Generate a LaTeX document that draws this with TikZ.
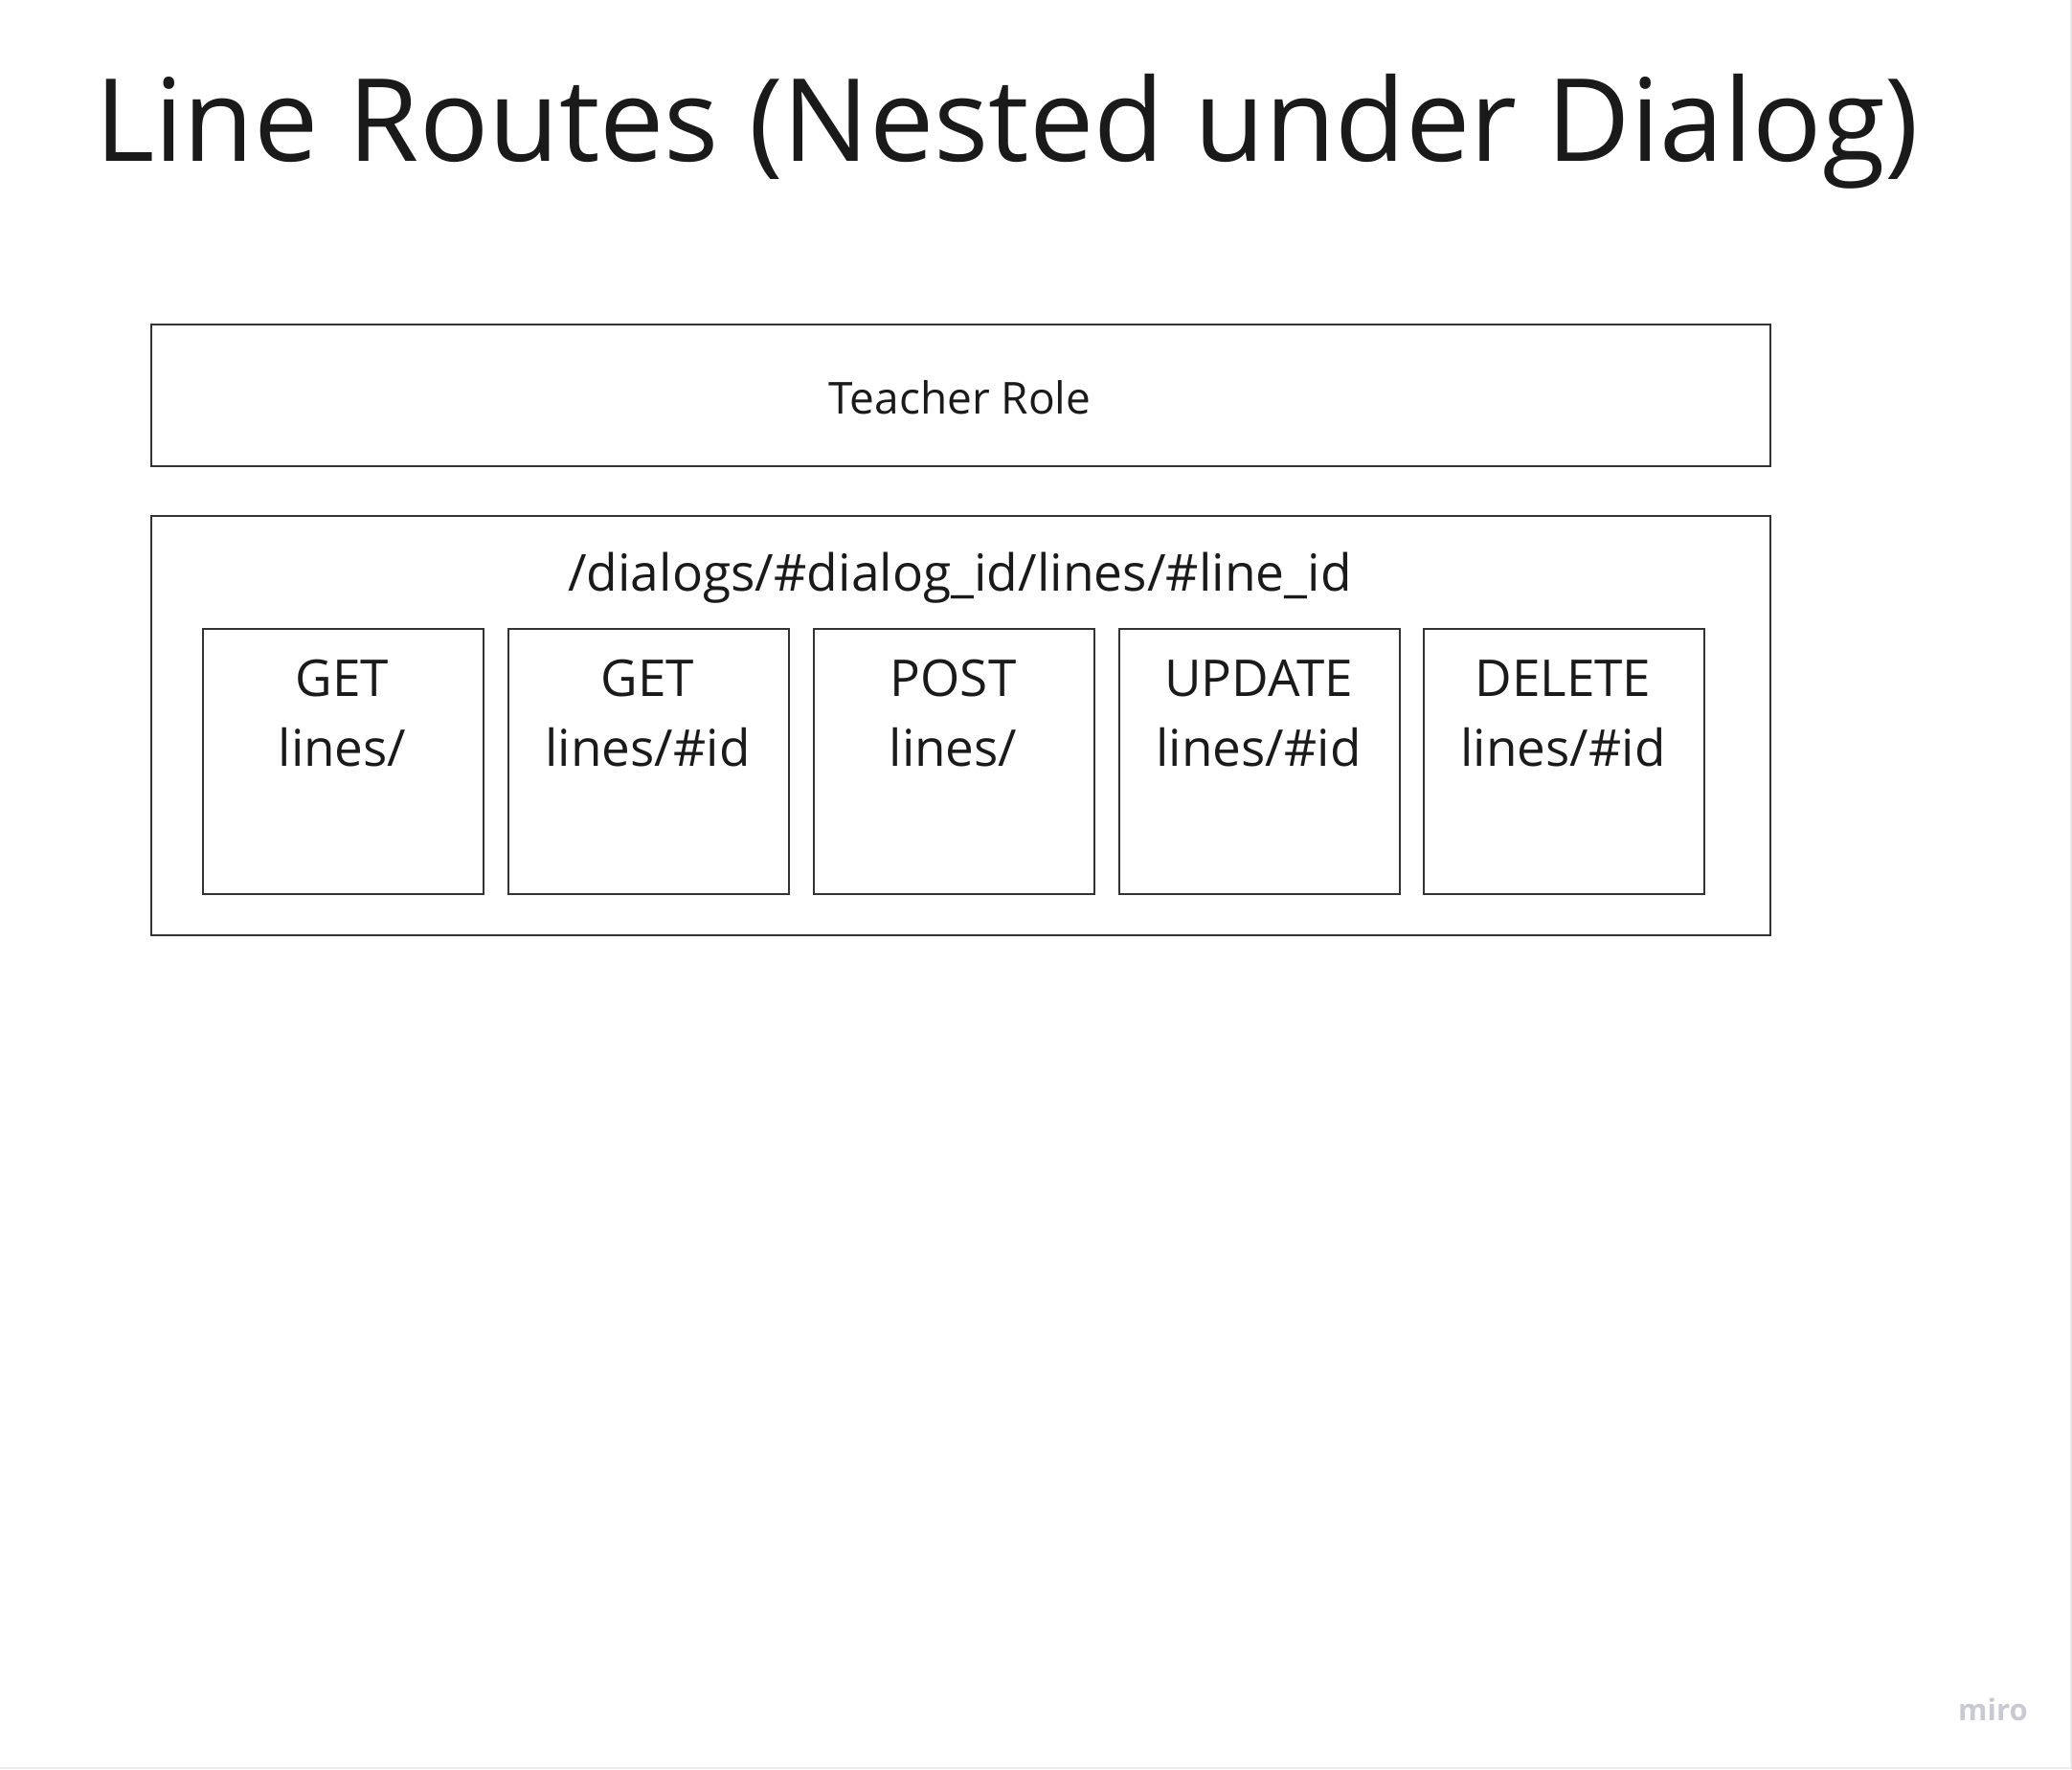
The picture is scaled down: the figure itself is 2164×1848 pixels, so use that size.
\documentclass[tikz,border=0pt]{standalone}
\usepackage{fontspec}
\setmainfont{Open Sans}
\definecolor{ink}{HTML}{1A1A1A}
\definecolor{edge}{HTML}{333333}
\definecolor{logo}{HTML}{C9C9D3}
\begin{document}
\begin{tikzpicture}[x=1pt,y=-1pt,
  box/.style={draw=edge,line width=1.6pt,rectangle,inner sep=0pt,anchor=north west},
  lbl/.style={text=ink,inner sep=0pt,align=center}]
\useasboundingbox (0,0) rectangle (2164,1848);
\fill[white] (0,0) rectangle (2164,1848);
\draw[black!8,line width=2pt] (2163,0) -- (2163,1847) -- (0,1847);
% title
\node[lbl,anchor=base west,font=\fontsize{120}{140}\selectfont] (title) at (99,168) {Line Routes (Nested under Dialog)};
% teacher role
\node[box,minimum width=1691pt,minimum height=148pt] (teacher) at (157,338) {};
\node[lbl,anchor=base,font=\fontsize{46}{54}\selectfont] (teachertext) at (1002.5,432) {Teacher Role};
% route container
\node[box,minimum width=1691pt,minimum height=438pt] (route) at (157,538) {};
\node[lbl,anchor=base,font=\fontsize{53.3}{64}\selectfont] (routetext) at (1002.5,617) {/dialogs/\#dialog\_id/lines/\#line\_id};
% inner boxes
\foreach \name/\x/\a/\b in {g1/211/GET/{lines/}, g2/530/GET/{lines/\#id}, p1/849/POST/{lines/}, u1/1168/UPDATE/{lines/\#id}, d1/1486/DELETE/{lines/\#id}}{
  \node[box,minimum width=293pt,minimum height=277pt] (\name) at (\x,656) {};
  \node[lbl,anchor=base,font=\fontsize{53}{73}\selectfont] (\name a) at (\x+146.5,727) {\a};
  \node[lbl,anchor=base,font=\fontsize{53}{73}\selectfont] (\name b) at (\x+146.5,800) {\b};
}
% logo
\node[anchor=base west,inner sep=0pt,text=logo,font=\fontsize{31}{36}\selectfont\bfseries] (miro) at (2045,1797) {miro};
\end{tikzpicture}
\end{document}
